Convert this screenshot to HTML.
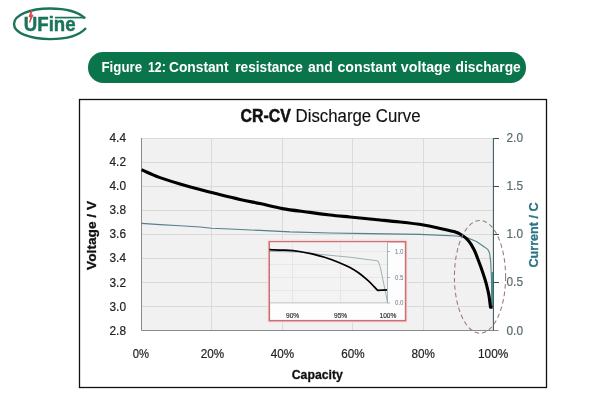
<!DOCTYPE html>
<html>
<head>
<meta charset="utf-8">
<title>Figure 12: Constant resistance and constant voltage discharge</title>
<style>
html,body{margin:0;padding:0;background:#fff;}
body{width:600px;height:400px;overflow:hidden;position:relative;font-family:"Liberation Sans",sans-serif;}
#logo{position:absolute;left:0;top:0;width:100px;height:50px;}
#banner{position:absolute;left:88px;top:52px;width:438px;height:30.5px;border-radius:15.25px;background:#0a744b;color:#fff;overflow:hidden;}
#banner svg{display:block;}
#chart{position:absolute;left:0;top:0;width:600px;height:400px;}
#chart text{font-family:"Liberation Sans",sans-serif;}
</style>
</head>
<body>
<svg id="chart" width="600" height="400" viewBox="0 0 600 400">
  <!-- frame -->
  <rect x="79.5" y="99.5" width="467" height="288" fill="#fff" stroke="#111" stroke-width="1.3"/>
  <!-- plot area -->
  <rect x="141.5" y="138" width="352" height="192" fill="#f1f1f1"/>
  <g stroke="#dadada" stroke-width="1" fill="none" shape-rendering="crispEdges">
    <path d="M141.5 138.5H493.5M141.5 162.5H493.5M141.5 186.5H493.5M141.5 210.5H493.5M141.5 234.5H493.5M141.5 258.5H493.5M141.5 282.5H493.5M141.5 306.5H493.5"/>
    <path d="M211.5 138V330M282.5 138V330M352.5 138V330M423.5 138V330"/>
  </g>
  <path d="M141.5 138V330.5H498.5" stroke="#8a8a8a" stroke-width="1" fill="none"/>
  <!-- right axis -->
  <path d="M493.4 138.5V330.5" stroke="#2f4f53" stroke-width="1" fill="none"/>
  <path d="M493.3 138.5H499M493.3 186.5H499M493.3 234.5H499M493.3 282.5H499" stroke="#2f4f53" stroke-width="1" fill="none"/>
  <!-- title -->
  <text x="240.6" y="122.2" font-size="17.5" font-weight="bold" fill="#111" stroke="#111" stroke-width="0.5" textLength="50.2" lengthAdjust="spacingAndGlyphs">CR-CV</text>
  <text x="295.6" y="122.2" font-size="17.5" fill="#111" stroke="#111" stroke-width="0.15" textLength="125" lengthAdjust="spacingAndGlyphs">Discharge Curve</text>
  <!-- left ticks -->
  <g font-size="13.3" fill="#222" stroke="#222" stroke-width="0.2">
    <text x="109.5" y="142.3" textLength="16.5" lengthAdjust="spacingAndGlyphs">4.4</text>
    <text x="109.5" y="166.2" textLength="16.5" lengthAdjust="spacingAndGlyphs">4.2</text>
    <text x="109.5" y="190.2" textLength="16.5" lengthAdjust="spacingAndGlyphs">4.0</text>
    <text x="109.5" y="214.0" textLength="16.5" lengthAdjust="spacingAndGlyphs">3.8</text>
    <text x="109.5" y="238.0" textLength="16.5" lengthAdjust="spacingAndGlyphs">3.6</text>
    <text x="109.5" y="262.3" textLength="16.5" lengthAdjust="spacingAndGlyphs">3.4</text>
    <text x="109.5" y="286.5" textLength="16.5" lengthAdjust="spacingAndGlyphs">3.2</text>
    <text x="109.5" y="311.2" textLength="16.5" lengthAdjust="spacingAndGlyphs">3.0</text>
    <text x="109.5" y="335.2" textLength="16.5" lengthAdjust="spacingAndGlyphs">2.8</text>
  </g>
  <!-- right ticks -->
  <g font-size="13.3" fill="#586b6e" stroke="#586b6e" stroke-width="0.2">
    <text x="506.5" y="141.8" textLength="16.5" lengthAdjust="spacingAndGlyphs">2.0</text>
    <text x="506.5" y="189.8" textLength="16.5" lengthAdjust="spacingAndGlyphs">1.5</text>
    <text x="506.5" y="237.5" textLength="16.5" lengthAdjust="spacingAndGlyphs">1.0</text>
    <text x="506.5" y="286.1" textLength="16.5" lengthAdjust="spacingAndGlyphs">0.5</text>
    <text x="506.5" y="334.7" textLength="16.5" lengthAdjust="spacingAndGlyphs">0.0</text>
  </g>
  <!-- x ticks -->
  <g font-size="13" fill="#222" stroke="#222" stroke-width="0.2">
    <text x="132.7" y="358" textLength="16.3" lengthAdjust="spacingAndGlyphs">0%</text>
    <text x="200.7" y="358" textLength="23.4" lengthAdjust="spacingAndGlyphs">20%</text>
    <text x="270.7" y="358" textLength="23.4" lengthAdjust="spacingAndGlyphs">40%</text>
    <text x="341.2" y="358" textLength="23.4" lengthAdjust="spacingAndGlyphs">60%</text>
    <text x="411.6" y="358" textLength="23.4" lengthAdjust="spacingAndGlyphs">80%</text>
    <text x="478" y="358" textLength="30.3" lengthAdjust="spacingAndGlyphs">100%</text>
  </g>
  <text x="291.7" y="378.8" font-size="12.8" font-weight="bold" fill="#111" stroke="#111" stroke-width="0.3" textLength="51.2" lengthAdjust="spacingAndGlyphs">Capacity</text>
  <text transform="translate(95.8 269.9) rotate(-90)" font-size="13.2" font-weight="bold" fill="#111" stroke="#111" stroke-width="0.3" textLength="69" lengthAdjust="spacingAndGlyphs">Voltage / V</text>
  <text transform="translate(537.8 267.6) rotate(-90)" font-size="13.2" font-weight="bold" fill="#2a7683" stroke="#2a7683" stroke-width="0.3" textLength="65.2" lengthAdjust="spacingAndGlyphs">Current / C</text>
  <!-- current (blue) line -->
  <path d="M141.6 223.4 L160 224.6 L180 225.8 L200 227 L211.6 228.2 L230 229 L260 230.4 L290 231.9 L330 233 L370 233.6 L420 234.4 L456 236 L464 237 L468 238 L476.5 241.5 L482.6 245.7 L487.8 249.4 L489.6 253 L490.7 262 L491.5 280 L491.9 307" stroke="#557f8c" stroke-width="1.1" fill="none" stroke-linejoin="round"/>
  <path d="M492.2 272 V307" stroke="#2f8a8a" stroke-width="1.4" fill="none"/>
  <!-- voltage (black) curve -->
  <path d="M141.6 169.6 C143.0 170.2 146.9 172.2 150.0 173.5 C153.1 174.8 155.0 175.8 160.0 177.6 C165.0 179.3 173.3 182.0 180.0 184.0 C186.7 186.0 194.7 188.2 200.0 189.6 C205.3 191.0 204.9 191.0 211.6 192.6 C218.3 194.2 231.9 197.6 240.0 199.4 C248.1 201.2 252.9 202.1 260.0 203.6 C267.1 205.1 274.1 207.1 282.4 208.6 C290.7 210.1 302.1 211.3 310.0 212.4 C317.9 213.5 323.3 214.2 330.0 215.0 C336.7 215.8 341.7 216.2 350.0 217.0 C358.3 217.8 371.7 219.2 380.0 220.0 C388.3 220.8 392.7 221.2 400.0 222.0 C407.3 222.8 416.9 223.9 423.6 225.0 C430.3 226.1 434.9 227.3 440.0 228.4 C445.1 229.5 450.4 230.5 454.0 231.6 C457.6 232.7 459.3 233.5 461.7 235.0 C464.1 236.5 466.4 238.3 468.5 240.8 C470.6 243.3 472.4 246.4 474.1 249.8 C475.8 253.2 477.1 257.1 478.6 261.0 C480.1 264.9 481.8 269.5 483.1 273.4 C484.4 277.3 485.6 281.0 486.5 284.6 C487.4 288.2 488.1 291.0 488.8 294.8 C489.5 298.6 490.2 305.2 490.5 307.3 L492.6 307.3" stroke="#000" stroke-width="3.1" fill="none" stroke-linejoin="round"/>
  <!-- dashed ellipse -->
  <ellipse cx="480" cy="276.8" rx="25.6" ry="56.4" fill="none" stroke="#98797b" stroke-width="1.05" stroke-dasharray="4.5 3"/>
  <!-- inset -->
  <g>
    <rect x="269.3" y="241.7" width="136.3" height="79" fill="#fdfdfd" stroke="#fbe3e3" stroke-width="5" stroke-opacity="0.7"/>
    <rect x="269.3" y="241.7" width="136.3" height="79" fill="#fdfdfd" stroke="#c87278" stroke-width="1.6"/>
    <rect x="270" y="242.5" width="117" height="60.5" fill="#f3f3f3"/>
    <path d="M270 251.5H387M270 264.5H387M270 277.5H387M270 290.5H387M292.5 243V303M340.5 243V303" stroke="#e7e7e7" stroke-width="1" fill="none"/>
    <path d="M270 302.9H387.5" stroke="#c2c2c2" stroke-width="1" fill="none"/>
    <path d="M387.5 243V303M387.5 251.5H390M387.5 277.5H390M387.5 303H390" stroke="#93a6a9" stroke-width="0.8" fill="none"/>
    <path d="M270 251.3 L300 252.2 L317 254 L349.5 257.2 L370 259.8 L378.2 261 L380.5 268 L384 285 L386.5 297 L387.5 303" stroke="#8aa0a6" stroke-width="0.8" fill="none"/>
    <path d="M269.5 249.7 C272.1 249.8 280.0 249.9 285.0 250.2 C290.0 250.5 295.0 250.9 299.5 251.5 C304.0 252.1 307.8 252.9 312.0 253.8 C316.2 254.8 320.3 255.9 324.5 257.2 C328.7 258.5 332.8 260.0 337.0 261.7 C341.2 263.4 345.9 265.3 349.5 267.2 C353.1 269.1 355.6 270.7 358.5 272.8 C361.4 274.9 364.7 277.7 367.0 279.7 C369.3 281.7 370.8 283.2 372.5 285.0 C374.2 286.8 376.7 289.4 377.5 290.3 L387 289.8" stroke="#000" stroke-width="1.7" fill="none" stroke-linejoin="round"/>
    <g font-size="7.1" fill="#2a2a2a" stroke="#2a2a2a" stroke-width="0.15">
      <text x="286" y="318" textLength="13.2" lengthAdjust="spacingAndGlyphs">90%</text>
      <text x="334" y="318" textLength="13.2" lengthAdjust="spacingAndGlyphs">95%</text>
      <text x="379.5" y="318" textLength="16.8" lengthAdjust="spacingAndGlyphs">100%</text>
    </g>
    <g font-size="6.6" fill="#5d7d82">
      <text x="395" y="253.8" textLength="8.5" lengthAdjust="spacingAndGlyphs">1.0</text>
      <text x="395" y="279.8" textLength="8.5" lengthAdjust="spacingAndGlyphs">0.5</text>
      <text x="395" y="305.3" textLength="8.5" lengthAdjust="spacingAndGlyphs">0.0</text>
    </g>
  </g>
</svg>
<svg id="logo" width="100" height="50" viewBox="0 0 100 50">
  <path d="M85 18.4 C78 11.5, 64 8.5, 50 8.5 C30 8.5, 14 15, 14 24 C14 33, 30 39.1, 50 39.1 C64 39.1, 79 36, 86 28" fill="none" stroke="#1b7459" stroke-width="2.4"/>
  <path d="M55 17.6H85.3" stroke="#1b7459" stroke-width="1.7" fill="none"/>
  <text x="23.8" y="31.2" font-family="Liberation Sans, sans-serif" font-weight="bold" font-size="21" fill="#1b7459" stroke="#1b7459" stroke-width="0.5" textLength="51.8" lengthAdjust="spacingAndGlyphs">UFine</text>
  <path d="M31.8 10 L29 16.8 L31 16.4 L29.6 22.4 L33 15 L31 15.4 Z" fill="#d84b44" stroke="#d84b44" stroke-width="1" stroke-linejoin="round"/>
</svg>
<div id="banner"><svg width="438" height="31" viewBox="88 52 438 31"><g font-family="Liberation Sans, sans-serif" font-weight="bold" font-size="14.4" fill="#fff">
  <text x="101.5" y="72.1" textLength="40.6" lengthAdjust="spacingAndGlyphs">Figure</text>
  <text x="148.0" y="72.1" textLength="17.8" lengthAdjust="spacingAndGlyphs">12:</text>
  <text x="169.0" y="72.1" textLength="59.6" lengthAdjust="spacingAndGlyphs">Constant</text>
  <text x="235.3" y="72.1" textLength="67.5" lengthAdjust="spacingAndGlyphs">resistance</text>
  <text x="308.0" y="72.1" textLength="24.8" lengthAdjust="spacingAndGlyphs">and</text>
  <text x="337.5" y="72.1" textLength="59" lengthAdjust="spacingAndGlyphs">constant</text>
  <text x="400.8" y="72.1" textLength="50" lengthAdjust="spacingAndGlyphs">voltage</text>
  <text x="455.5" y="72.1" textLength="65.3" lengthAdjust="spacingAndGlyphs">discharge</text>
</g></svg></div>
</body>
</html>
